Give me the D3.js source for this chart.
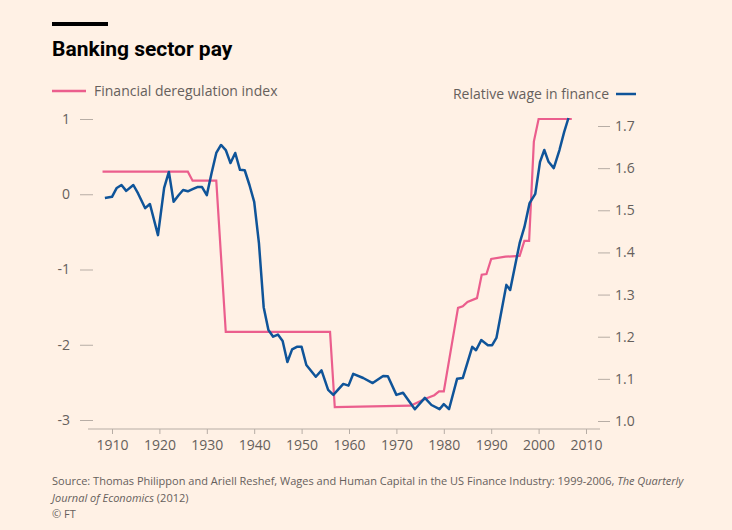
<!DOCTYPE html>
<html><head><meta charset="utf-8">
<script src="https://cdn.jsdelivr.net/npm/d3@7"></script>
<style>
body{margin:0;background:#fff1e5;font-family:"Open Sans",sans-serif;}
</style></head><body>
<svg id="chart" width="732" height="530"></svg>
<script>
const dereg = [[1908,0.3],[1926,0.3],[1927,0.18],[1932,0.18],[1934,-1.83],[1956,-1.83],[1957,-2.83],[1973,-2.81],[1974,-2.78],[1976,-2.72],[1978,-2.67],[1979,-2.62],[1980,-2.62],[1983,-1.51],[1984,-1.49],[1985,-1.43],[1987,-1.38],[1988,-1.07],[1989,-1.06],[1990,-0.86],[1993,-0.83],[1996,-0.82],[1997,-0.62],[1998,-0.62],[1999,0.7],[2000,1.0],[2007,1.0]];
const wage = [[1908.5,1.529],[1910,1.532],[1911,1.553],[1912,1.56],[1913,1.546],[1914.5,1.56],[1915.5,1.54],[1917,1.505],[1918,1.515],[1919.7,1.441],[1921,1.553],[1922,1.591],[1923,1.52],[1924,1.535],[1925,1.548],[1926,1.545],[1927,1.55],[1928,1.555],[1929,1.555],[1930,1.536],[1931,1.588],[1932,1.636],[1933,1.655],[1934,1.643],[1935,1.612],[1936,1.636],[1937,1.596],[1938,1.595],[1939,1.56],[1940,1.52],[1941,1.422],[1942,1.27],[1943,1.216],[1944,1.2],[1945,1.205],[1946,1.19],[1947,1.14],[1948,1.17],[1949,1.176],[1950,1.176],[1951,1.133],[1953,1.105],[1954.2,1.12],[1955.6,1.074],[1956.7,1.062],[1958.8,1.088],[1959.9,1.084],[1960.9,1.112],[1963,1.102],[1965,1.09],[1967.2,1.107],[1968.2,1.106],[1970,1.062],[1971.4,1.067],[1972.8,1.045],[1973.9,1.028],[1976,1.055],[1977.4,1.038],[1979.1,1.028],[1980,1.04],[1981.1,1.028],[1982.8,1.1],[1984,1.102],[1986,1.176],[1986.8,1.168],[1987.9,1.192],[1989.3,1.18],[1990.2,1.18],[1991.1,1.197],[1993.2,1.323],[1994,1.311],[1996,1.422],[1997,1.46],[1998.1,1.517],[1999.3,1.539],[2000.3,1.615],[2001.2,1.643],[2002.1,1.615],[2003.2,1.6],[2004.4,1.643],[2005.4,1.686],[2006.3,1.719]];
const xTicks = [1910,1920,1930,1940,1950,1960,1970,1980,1990,2000,2010];
const leftTicks = [1,0,-1,-2,-3];
const rightTicks = [1.0,1.1,1.2,1.3,1.4,1.5,1.6,1.7];

const svg = d3.select("#chart");
const x = d3.scaleLinear().domain([1910,2010]).range([112,586]);
const yL = d3.scaleLinear().domain([-3,1]).range([420,119]);
const yR = d3.scaleLinear().domain([1.0,1.7]).range([421,126]);
const grey = "#66605c";

svg.append("rect").attr("x",52).attr("y",22).attr("width",56).attr("height",4).attr("fill","#000");
svg.append("text").attr("x",52).attr("y",56).attr("font-size",21).attr("font-weight",700)
  .attr("fill","#000").attr("font-family","Roboto, sans-serif").text("Banking sector pay");

// legend
svg.append("line").attr("x1",52).attr("x2",86).attr("y1",91).attr("y2",91).attr("stroke","#eb5e8d").attr("stroke-width",2.5);
svg.append("text").attr("x",94).attr("y",96).attr("font-size",14).attr("fill",grey).text("Financial deregulation index");
svg.append("line").attr("x1",616).attr("x2",636).attr("y1",94).attr("y2",94).attr("stroke","#0f5499").attr("stroke-width",2.5);
svg.append("text").attr("x",609).attr("y",99).attr("font-size",14).attr("fill",grey).attr("text-anchor","end").text("Relative wage in finance");

// left axis
const la = svg.append("g").attr("transform","translate(93,0)")
  .call(d3.axisLeft(yL).tickValues(leftTicks).tickSize(13).tickPadding(10).tickFormat(d=>d<0?"-"+Math.abs(d):d));
const ra = svg.append("g").attr("transform","translate(598,0)")
  .call(d3.axisRight(yR).tickValues(rightTicks).tickSize(12).tickPadding(5).tickFormat(d3.format(".1f")));
const xa = svg.append("g").attr("transform","translate(0,429)")
  .call(d3.axisBottom(x).tickValues(xTicks).tickSize(5).tickPadding(6).tickFormat(d3.format("d")));
[la,ra,xa].forEach(g=>{
  g.selectAll("text").attr("font-size",14).attr("fill",grey).attr("font-family","Open Sans, sans-serif");
  g.selectAll(".tick line").attr("stroke","#b7ada5");
});
la.select(".domain").remove(); ra.select(".domain").remove();
xa.select(".domain").attr("stroke","#b7ada5").attr("d","M88,0H600");

svg.append("path").datum(dereg).attr("fill","none").attr("stroke","#eb5e8d").attr("stroke-width",2.2)
  .attr("d",d3.line().x(d=>x(d[0])).y(d=>yL(d[1])));
svg.append("path").datum(wage).attr("fill","none").attr("stroke","#0f5499").attr("stroke-width",2.5)
  .attr("stroke-linejoin","round").attr("d",d3.line().x(d=>x(d[0])).y(d=>yR(d[1])));

const src = svg.append("text").attr("font-size",11).attr("fill",grey);
src.append("tspan").attr("x",52).attr("y",485).text("Source: Thomas Philippon and Ariell Reshef, Wages and Human Capital in the US Finance Industry: 1999-2006, ");
src.append("tspan").attr("font-style","italic").text("The Quarterly");
const src2 = svg.append("text").attr("x",52).attr("y",502).attr("font-size",11).attr("fill",grey);
src2.append("tspan").attr("font-style","italic").text("Journal of Economics");
src2.append("tspan").text(" (2012)");
svg.append("text").attr("x",52).attr("y",518).attr("font-size",11).attr("fill",grey).text("© FT");
</script></body></html>
